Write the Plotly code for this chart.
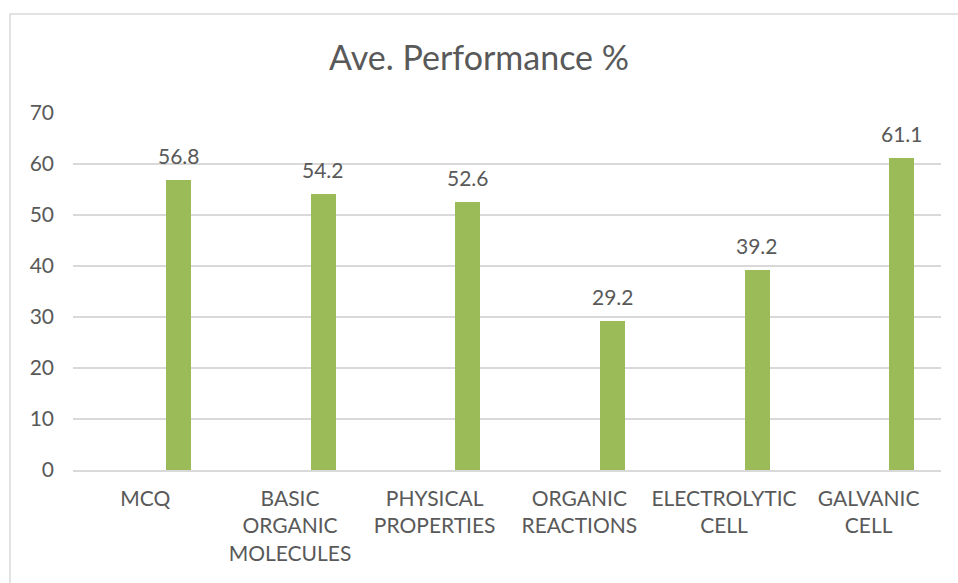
import plotly.graph_objects as go

categories = ["MCQ", "BASIC<br>ORGANIC<br>MOLECULES", "PHYSICAL<br>PROPERTIES",
              "ORGANIC<br>REACTIONS", "ELECTROLYTIC<br>CELL", "GALVANIC<br>CELL"]
values = [56.8, 54.2, 52.6, 29.2, 39.2, 61.1]
y_ticks = [0, 10, 20, 30, 40, 50, 60, 70]

FONT = "Lato"
TXT = "#595959"
GRID = "#D9D9D9"
BAR = "#9BBB59"

W, H = 958, 583
ml, mr, mt, mb = 73, 17, 113, 113
bar_offset, bar_width = 0.143, 0.173
cat_px = (W - ml - mr) / len(categories)
center_shift = (bar_offset + bar_width / 2) * cat_px

fig = go.Figure()
fig.add_trace(go.Bar(
    x=categories, y=values,
    offset=bar_offset, width=bar_width,
    marker=dict(color=BAR, line=dict(width=0)),
    hoverinfo="x+y",
))

for c, v in zip(categories, values):
    fig.add_annotation(
        x=c, y=v, text=f"{v:.1f}", showarrow=False,
        xanchor="center", yanchor="bottom",
        xshift=center_shift, yshift=10,
        font=dict(family=FONT, size=21, color=TXT),
    )

# chart-area border (decoration)
pw, ph = W - ml - mr, H - mt - mb
fig.add_shape(type="rect", xref="paper", yref="paper",
              x0=(10 - ml) / pw, x1=(W + 20 - ml) / pw,
              y0=-(H + 20 - (H - mb)) / ph, y1=((H - mb) - 14) / ph,
              line=dict(color=GRID, width=1.5), fillcolor="rgba(0,0,0,0)", layer="below")

fig.update_layout(
    width=W, height=H,
    margin=dict(l=ml, r=mr, t=mt, b=mb),
    paper_bgcolor="white", plot_bgcolor="white",
    showlegend=False,
    title=dict(text="Ave. Performance %", x=0.5, xanchor="center",
               y=1 - 58 / H, yanchor="middle", yref="container",
               font=dict(family=FONT, size=34, color=TXT)),
    font=dict(family=FONT, color=TXT),
    xaxis=dict(type="category", showgrid=False, ticks="",
               showline=True, linecolor=GRID, linewidth=1.5,
               tickfont=dict(family=FONT, size=21, color=TXT),
               ticklabelstandoff=9),
    yaxis=dict(range=[0, 70], tickvals=y_ticks, showgrid=True, gridcolor=GRID,
               gridwidth=1.5, zeroline=False, showline=False, ticks="",
               tickfont=dict(family=FONT, size=21, color=TXT),
               ticklabelstandoff=18),
    bargap=0,
)

fig.write_html("out.html")
